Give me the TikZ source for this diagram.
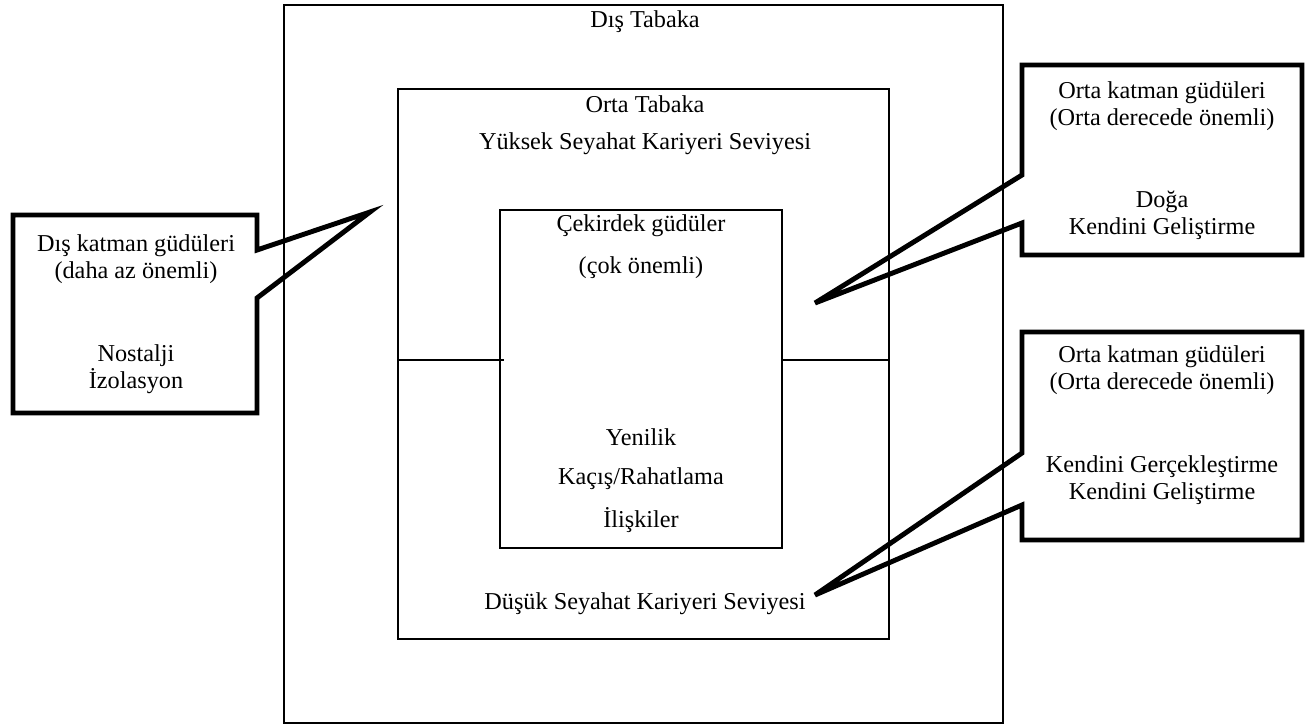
\documentclass[tikz,border=0pt]{standalone}
\usepackage{fontspec}
\setmainfont{Liberation Serif}
\usepackage{tikz}
\usetikzlibrary{positioning}

\begin{document}
\begin{tikzpicture}[
  x=0.02cm, y=-0.02cm,
  every node/.style={font=\fontsize{13.8}{15.4}\selectfont},
  layer/.style={draw, line width=0.8pt, inner sep=0pt, outer sep=0pt},
  bubble/.style={draw, line width=2.8pt, line join=miter},
  txt/.style={align=center, inner sep=0pt},
]
\useasboundingbox (0,0) rectangle (1310,727);

% Layers
\node[layer, minimum width=14.38cm, minimum height=14.36cm] (dis) at (643.5,364) {};
\node[layer, minimum width=9.82cm, minimum height=11cm] (orta) at (643.5,364) {};
\node[layer, minimum width=5.64cm, minimum height=6.76cm] (cekirdek) at (641,379) {};

% Lines between middle and core
\draw[line width=0.8pt] (orta.west |- 0,360) -- ([xshift=3\pgflinewidth]cekirdek.west |- 0,360);
\draw[line width=0.8pt] (cekirdek.east |- 0,360) -- (orta.east |- 0,360);

% Layer texts
\node[txt] (distxt) at (645,22) {Dış Tabaka};
\node[txt] (ortatxt) at (645,104) {Orta Tabaka};
\node[txt] (yuksek) at (645,144) {Yüksek Seyahat Kariyeri Seviyesi};
\node[txt] (cektxt) at (641,226) {Çekirdek güdüler};
\node[txt] (cokonemli) at (641,268) {(çok önemli)};
\node[txt] (yenilik) at (641,437) {Yenilik};
\node[txt] (kacis) at (641,479) {Kaçış/Rahatlama};
\node[txt] (iliskiler) at (641,520) {İlişkiler};
\node[txt] (dusuk) at (645,604) {Düşük Seyahat Kariyeri Seviyesi};

% Callouts
\draw[bubble] (13,215) -- (257,215) -- (257,250) -- (370,212) -- (257,298)
  -- (257,413) -- (13,413) -- cycle;
\draw[bubble] (1022,65) -- (1302,65) -- (1302,255) -- (1022,255) -- (1022,223)
  -- (815,303) -- (1022,175) -- cycle;
\draw[bubble] (1022,332) -- (1302,332) -- (1302,540) -- (1022,540) -- (1022,505)
  -- (815,595) -- (1022,453) -- cycle;

% Callout texts
\node[txt] (dishead) at (136,259) {Dış katman güdüleri\\(daha az önemli)};
\node[txt] (disitems) at (136,369) {Nostalji\\İzolasyon};
\node[txt] (orta1head) at (1162,106) {Orta katman güdüleri\\(Orta derecede önemli)};
\node[txt] (orta1items) at (1162,215) {Doğa\\Kendini Geliştirme};
\node[txt] (orta2head) at (1162,370) {Orta katman güdüleri\\(Orta derecede önemli)};
\node[txt] (orta2items) at (1162,480) {Kendini Gerçekleştirme\\Kendini Geliştirme};

\end{tikzpicture}
\end{document}
